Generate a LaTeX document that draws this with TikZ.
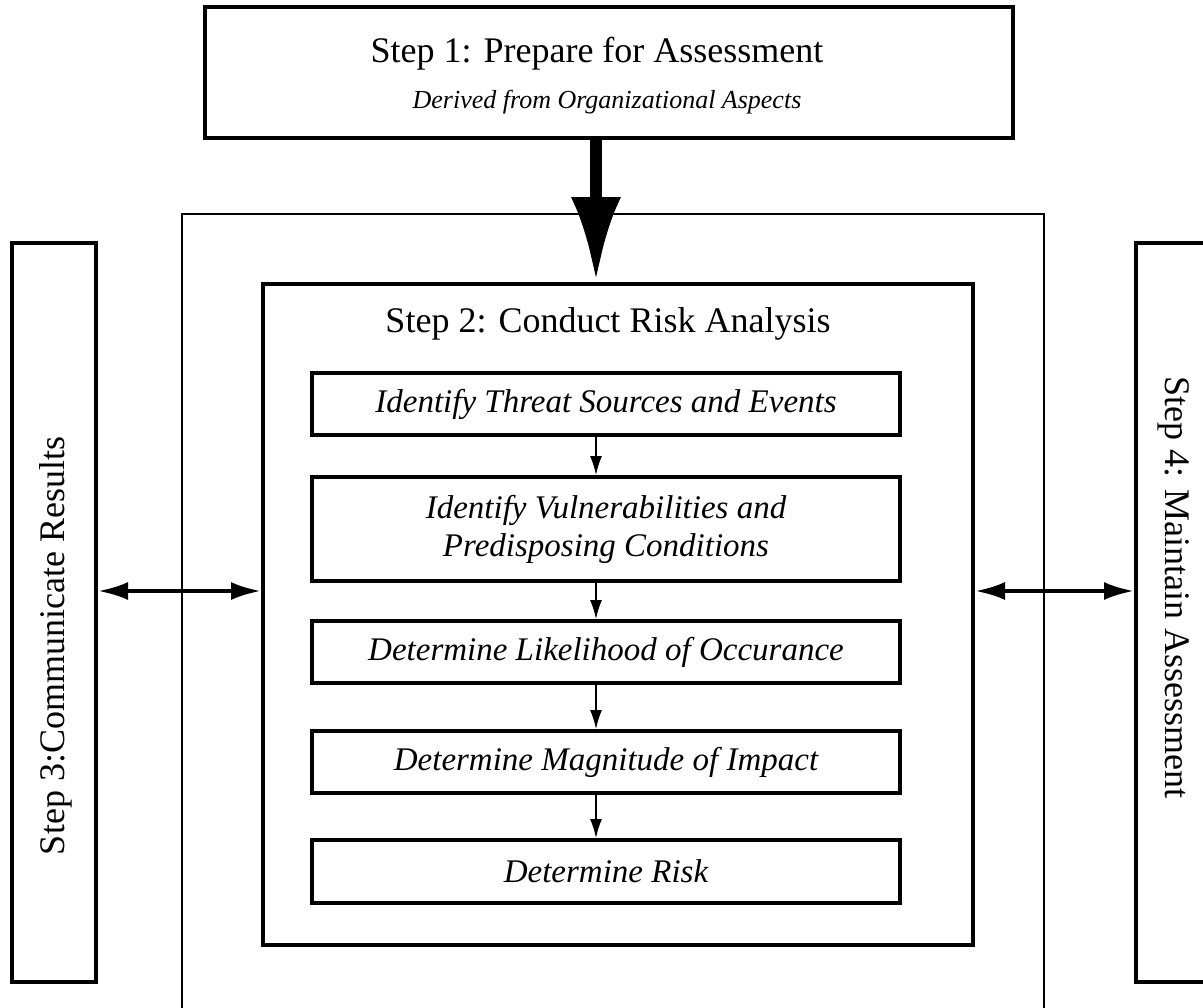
\documentclass[tikz,border=0pt]{standalone}
\usepackage{fontspec}
\setmainfont{Liberation Serif}
\usetikzlibrary{arrows.meta}

\tikzset{
    box/.style={draw, line width=2pt, inner sep=0pt},
    inbox/.style={draw, line width=2pt, minimum width=294pt, minimum height=31pt, align=center,
        font=\fontsize{16.5}{19}\selectfont\itshape},
    title/.style={font=\fontsize{18}{21}\selectfont, inner sep=0pt},
    bigarrow/.style={line width=6pt, -{Latex[length=42.5pt,width=25pt]}},
    flowarrow/.style={line width=0.75pt, -{Latex[length=9.5pt,width=6pt]}},
    linkarrow/.style={line width=2pt, {Latex[length=15pt,width=9pt]}-{Latex[length=15pt,width=9pt]}},
}

\begin{document}
\begin{tikzpicture}[>=Latex, x=0.5pt, y=-0.5pt]
        \clip (0, 0) rectangle (1203, 1007);
        % 外框
        \node[draw, line width=0.75pt, minimum width=431pt, minimum height=420pt] (frame) at (613, 634){};
        \node[box, minimum width=404pt, minimum height=65.5pt] (prep) at (609, 72.5){};
        \node[title, anchor=base] (preptitle) at (597, 62){Step 1: Prepare for Assessment};
        \node[font=\fontsize{13}{15}\selectfont\itshape, inner sep=0pt, anchor=base] (prepnote) at (607, 108){Derived from Organizational Aspects};
        \node[box, minimum width=355pt, minimum height=330.5pt] (analysis) at (618, 614.5){};
        \node[title, anchor=base] (analysistitle) at (608, 332){Step 2: Conduct Risk Analysis};
        % 分析步骤
        \node[inbox] (threat) at (606, 404){Identify Threat Sources and Events};
        \node[inbox, minimum height=52pt] (vuln) at (606, 529){Identify Vulnerabilities and\\Predisposing Conditions};
        \node[inbox] (likely) at (606, 652){Determine Likelihood of Occurance};
        \node[inbox] (impact) at (606, 762){Determine Magnitude of Impact};
        \node[inbox, minimum height=31.5pt] (risk) at (606, 871.5){Determine Risk};
        % 两侧
        \node[box, minimum width=42pt, minimum height=369.5pt] (comm) at (54, 612.5){};
        \node[title, rotate=90] (commtext) at (56, 646){Step 3:Communicate Results};
        \node[box, minimum width=42pt, minimum height=369.5pt] (maint) at (1178, 612.5){};
        \node[title, rotate=-90] (mainttext) at (1174, 587){Step 4: Maintain Assessment};
        \coordinate (axis) at (596, 0);
        \coordinate (link) at (0, 591);
        \draw[bigarrow] (prep.south -| axis) -- (analysis.north -| axis);
        \foreach \a/\b in {threat/vuln, vuln/likely, likely/impact, impact/risk}
            \draw[flowarrow] (\a.south -| axis) -- (\b.north -| axis);
        \draw[linkarrow] (comm.east |- link) -- (analysis.west |- link);
        \draw[linkarrow] (analysis.east |- link) -- (maint.west |- link);
    \end{tikzpicture}
\end{document}
